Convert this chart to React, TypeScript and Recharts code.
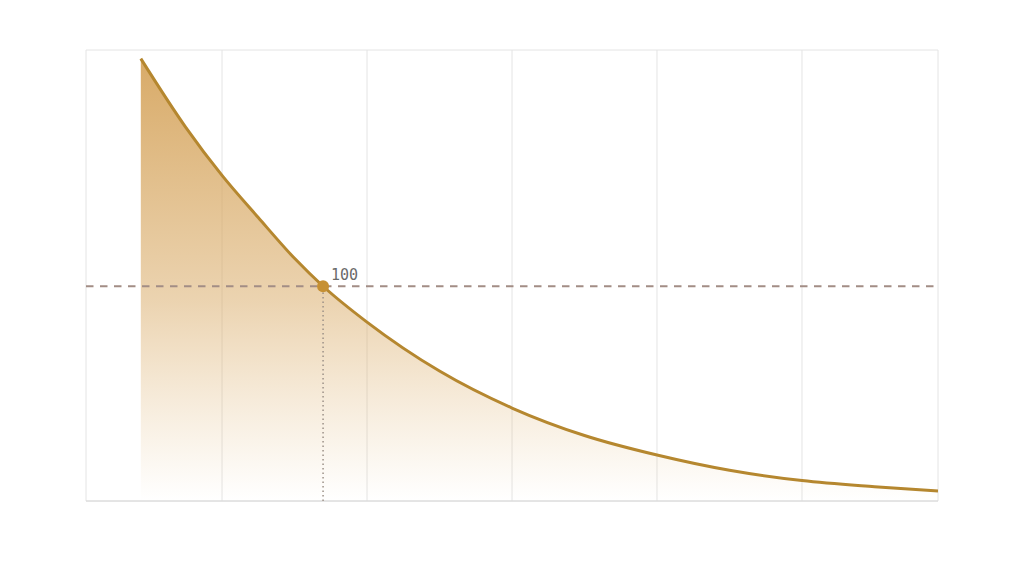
import React from 'react';
import {
  ComposedChart, Area, XAxis, YAxis, CartesianGrid, ReferenceLine, ReferenceDot,
} from 'recharts';

// x positions (grid lines at 1..5) and the decaying values
const xValues = [0.44, 0.75, 1, 1.25, 1.5, 1.697, 2, 2.5, 3, 3.5, 4, 4.5, 5, 5.5, 5.938];
const yValues = [206, 174, 151.6, 132, 113, 100, 83.3, 60.5, 43.3, 30.5, 21.4, 14.3, 9.5, 6.65, 4.65];

const xDomain: [number, number] = [0.062, 5.938];
const xTicks = [0.062, 1, 2, 3, 4, 5, 5.938];
const yDomain: [number, number] = [0, 210];
const yTicks = [0, 210];

const markerX = 1.697;
const markerY = 100;

const data = xValues.map((x, i) => ({ x, value: yValues[i] }));

const W = 1024;
const H = 572;

export default function App() {
  return (
    <div style={{ position: 'fixed', left: 0, top: 0, width: W, height: H, background: '#fff' }}>
      <ComposedChart width={W} height={H} data={data} margin={{ top: 50, right: 86, bottom: 71, left: 86 }}>
        <defs>
          <linearGradient id="decayFill" x1="0" y1="0" x2="0" y2="1">
            <stop offset="0%" stopColor="#d6a660" stopOpacity={0.95} />
            <stop offset="55%" stopColor="#d8a862" stopOpacity={0.5} />
            <stop offset="77%" stopColor="#dcae6a" stopOpacity={0.25} />
            <stop offset="100%" stopColor="#e0b470" stopOpacity={0} />
          </linearGradient>
        </defs>
        <CartesianGrid stroke="#e4e4e4" strokeWidth={1} />
        <XAxis dataKey="x" type="number" domain={xDomain} ticks={xTicks} hide allowDataOverflow />
        <YAxis type="number" domain={yDomain} ticks={yTicks} hide allowDataOverflow />
        <ReferenceLine y={0} stroke="#d8d8d8" strokeWidth={1.2} />
        <Area
          type="monotone"
          dataKey="value"
          stroke="#b5872f"
          strokeWidth={3}
          fill="url(#decayFill)"
          fillOpacity={1}
          baseValue={0}
          isAnimationActive={false}
        />
        <ReferenceLine y={markerY} stroke="#a28d85" strokeWidth={1.8} strokeDasharray="7.5 6.5" />
        <ReferenceLine
          segment={[{ x: markerX, y: 0 }, { x: markerX, y: markerY }]}
          stroke="#9c9088"
          strokeWidth={1.5}
          strokeDasharray="1.5 3"
        />
        <ReferenceDot
          x={markerX}
          y={markerY}
          r={6}
          fill="#c69033"
          stroke="none"
          label={{
            value: '100',
            position: 'insideBottomLeft',
            offset: 0,
            dx: 14,
            dy: -12,
            fill: '#6a6a6a',
            fontSize: 15,
            fontFamily: 'DejaVu Sans Mono',
          }}
        />
      </ComposedChart>
    </div>
  );
}
